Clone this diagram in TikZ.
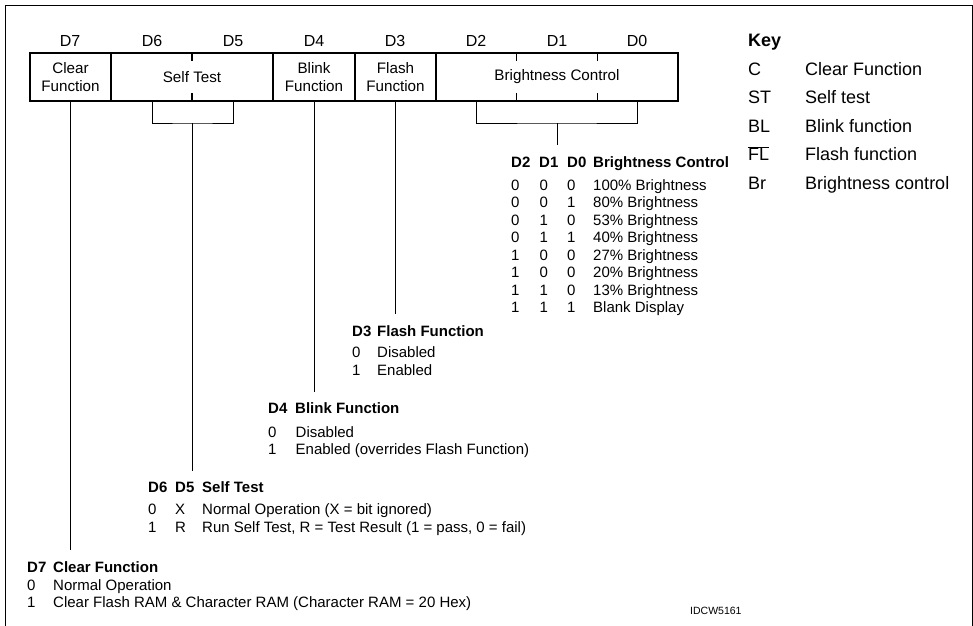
\documentclass[tikz,border=0pt]{standalone}
\usepackage{fontspec}
\setmainfont{Liberation Sans}
\newcommand\regsize{\fontsize{16}{17.7}\selectfont}
\newcommand\boxsize{\fontsize{15.2}{18}\selectfont}
\newcommand\tabsize{\fontsize{15}{17.5}\selectfont}
\newcommand\keysize{\fontsize{18}{20}\selectfont}
\newcommand\idsize{\fontsize{10.5}{12}\selectfont}

\begin{document}
\begin{tikzpicture}[x=1pt, y=-1pt,
    field/.style ={draw, line width=1.6pt, minimum height=47.5pt, inner sep=0pt, align=center, font=\boxsize},
    bitname/.style ={anchor=base, inner sep=0pt, font=\regsize},
    tick/.style ={line width=1.6pt},
    lead/.style ={line width=0.85pt},
    entry/.style ={anchor=base west, inner sep=0pt, font=\tabsize},
    heading/.style ={entry, font=\tabsize\bfseries},
    keyentry/.style ={anchor=base west, inner sep=0pt, font=\keysize}]
   \useasboundingbox (0,0) rectangle (973,625);
   \draw[line width=1pt] (5,640) -- (5,5) -- (972,5) -- (972,640);

   % register
   \node[field, minimum width=81pt]  (clr) at (70.5,77)  {Clear\\Function};
   \node[field, minimum width=162pt] (st)  at (192,77)   {Self Test};
   \node[field, minimum width=82pt]  (blk) at (314,77)   {Blink\\Function};
   \node[field, minimum width=81pt]  (fla) at (395.5,77) {Flash\\Function};
   \node[field, minimum width=242pt] (bri) at (557,77)   {Brightness Control};

   \foreach \n/\x in {7/70,6/152,5/233,4/314,3/395,2/476,1/557,0/637}
      \node[bitname] (d\n) at (\x,46.5) {D\n};

   \draw[tick] (st.north) -- ++(0,9);
   \draw[tick] (st.south) -- ++(0,-9);
   \draw[tick] ([xshift=-40.5pt]bri.north) -- ++(0,9);
   \draw[tick] ([xshift=-40.5pt]bri.south) -- ++(0,-9);
   \draw[tick] ([xshift=40.5pt]bri.north) -- ++(0,9);
   \draw[tick] ([xshift=40.5pt]bri.south) -- ++(0,-9);

   % leads
   \coordinate (clrend) at (70.5,550);
   \coordinate (stjoin) at (192,123);
   \coordinate (stend)  at (192,471);
   \coordinate (blkend) at (314,392);
   \coordinate (flaend) at (395.5,314);
   \coordinate (brjoin) at (557,123);
   \coordinate (brend)  at (557,145);

   \draw[lead] (clr.south) to (clrend);
   \draw[lead] ([xshift=-40pt]st.south) |- (stjoin) -| ([xshift=41pt]st.south);
   \draw[lead] (stjoin) to (stend);
   \draw[lead] (blk.south) to (blkend);
   \draw[lead] (fla.south) to (flaend);
   \draw[lead] ([xshift=-81pt]bri.south) |- (brjoin) -| ([xshift=80pt]bri.south);
   \draw[lead] (brjoin) to (brend);

   % brightness table
   \node[heading] (brh2) at (511,167) {D2};
   \node[heading] (brh1) at (539,167) {D1};
   \node[heading] (brh0) at (567,167) {D0};
   \node[heading] (brht) at (593,167) {Brightness Control};
   \foreach \a/\b/\c/\t [count=\i] in {0/0/0/100\% Brightness, 0/0/1/80\% Brightness,
         0/1/0/53\% Brightness, 0/1/1/40\% Brightness, 1/0/0/27\% Brightness,
         1/0/0/20\% Brightness, 1/1/0/13\% Brightness, 1/1/1/Blank Display}
   {
      \node[entry] (bra\i) at (511,{190+17.5*(\i-1)}) {\a};
      \node[entry] (brb\i) at (539.5,{190+17.5*(\i-1)}) {\b};
      \node[entry] (brc\i) at (567,{190+17.5*(\i-1)}) {\c};
      \node[entry] (brt\i) at (593,{190+17.5*(\i-1)}) {\t};
   }

   % flash
   \node[heading] (flah) at (352,336) {D3};
   \node[heading] (flat) at (377,336) {Flash Function};
   \node[entry] (fla0) at (352,357) {0};
   \node[entry] (fla0t) at (377,357) {Disabled};
   \node[entry] (fla1) at (352,375) {1};
   \node[entry] (fla1t) at (377,375) {Enabled};

   % blink
   \node[heading] (blkh) at (268,413) {D4};
   \node[heading] (blkt) at (295,413) {Blink Function};
   \node[entry] (blk0) at (268,437) {0};
   \node[entry] (blk0t) at (295.5,437) {Disabled};
   \node[entry] (blk1) at (268,454) {1};
   \node[entry] (blk1t) at (295.5,454) {Enabled (overrides Flash Function)};

   % self test
   \node[heading] (sth6) at (148,492) {D6};
   \node[heading] (sth5) at (175,492) {D5};
   \node[heading] (stt)  at (202,492) {Self Test};
   \node[entry] (st0a) at (148,514) {0};
   \node[entry] (st0b) at (175,514) {X};
   \node[entry] (st0t) at (202,514) {Normal Operation (X = bit ignored)};
   \node[entry] (st1a) at (148,532) {1};
   \node[entry] (st1b) at (175,532) {R};
   \node[entry] (st1t) at (202,532) {Run Self Test, R = Test Result (1 = pass, 0 = fail)};

   % clear
   \node[heading] (clrh) at (27,572) {D7};
   \node[heading] (clrt) at (53,572) {Clear Function};
   \node[entry] (clr0) at (27,590) {0};
   \node[entry] (clr0t) at (53,590) {Normal Operation};
   \node[entry] (clr1) at (27,607.5) {1};
   \node[entry] (clr1t) at (53,607.5) {Clear Flash RAM \& Character RAM (Character RAM = 20 Hex)};

   % key
   \node[keyentry, font=\keysize\bfseries] (key) at (748,46) {Key};
   \foreach \k/\d [count=\i] in {C/Clear Function, ST/Self test, BL/Blink function,
         $\overline{\mbox{FL}}$/Flash function, Br/Brightness control}
   {
      \node[keyentry] (keya\i) at (748,{75+28.6*(\i-1)}) {\k};
      \node[keyentry] (keyb\i) at (805,{75+28.6*(\i-1)}) {\d};
   }

   \node[anchor=base west, inner sep=0pt, font=\idsize] (idcw) at (690,614) {IDCW5161};
 \end{tikzpicture}
\end{document}
